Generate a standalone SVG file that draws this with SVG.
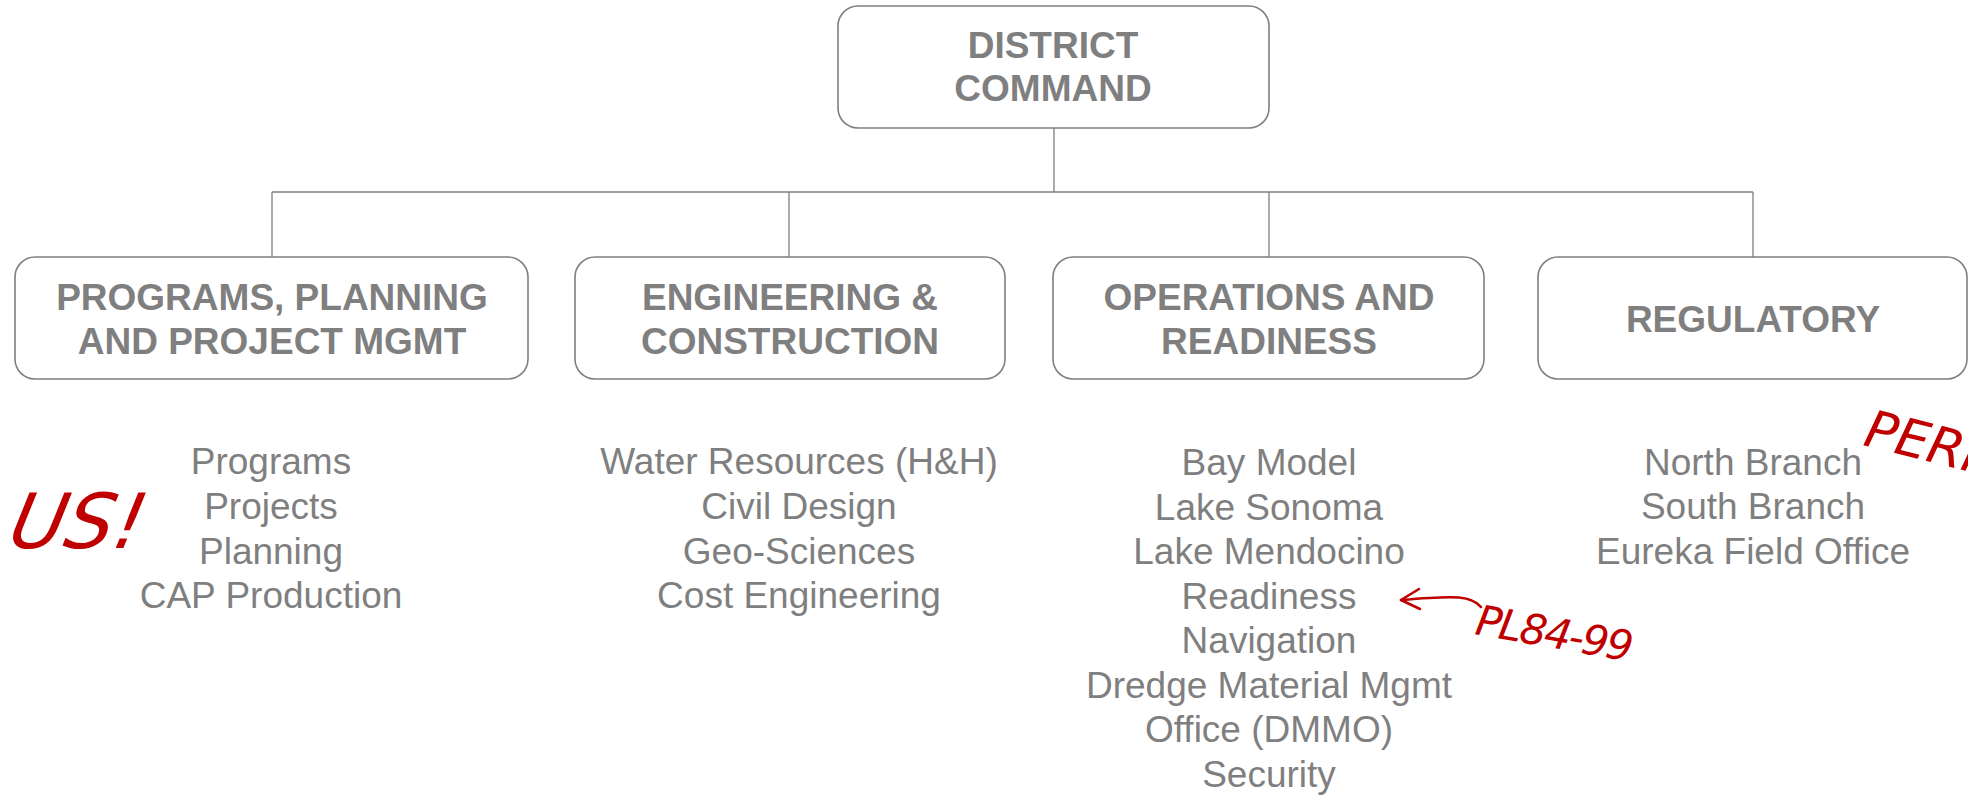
<svg xmlns="http://www.w3.org/2000/svg" width="1968" height="795" viewBox="0 0 1968 795">
<style>
.box{fill:#ffffff;stroke:#7f7f7f;stroke-width:1.6}
.hd{font-family:"Liberation Sans",Arial,sans-serif;font-weight:bold;font-size:37px;fill:#7f7f7f;text-anchor:middle}
.li{font-family:"Liberation Sans",Arial,sans-serif;font-size:37px;fill:#7f7f7f;text-anchor:middle}
.con{fill:none;stroke:#7f7f7f;stroke-width:1.3}
.note{font-family:"DejaVu Sans","Liberation Sans",sans-serif;font-style:italic;fill:#c00000}
.ink{fill:none;stroke:#c00000;stroke-width:2.6;stroke-linecap:round;stroke-linejoin:round}
</style>
<rect width="1968" height="795" fill="#ffffff"/>
<g id="connectors">
<path class="con" d="M1054,128 V192 M272,192 H1753 M272,192 V257 M789,192 V257 M1269,192 V257 M1753,192 V257"/>
</g>
<g id="district-command">
<rect class="box" x="838" y="6" width="431" height="122" rx="20"/>
<text class="hd" x="1053" y="58">DISTRICT</text>
<text class="hd" x="1053" y="101">COMMAND</text>
</g>
<g id="ppm">
<rect class="box" x="15" y="257" width="513" height="122" rx="20"/>
<text class="hd" x="272" y="310">PROGRAMS, PLANNING</text>
<text class="hd" x="272" y="354">AND PROJECT MGMT</text>
<g class="li">
<text x="271" y="474">Programs</text>
<text x="271" y="519">Projects</text>
<text x="271" y="564">Planning</text>
<text x="271" y="608">CAP Production</text>
</g>
</g>
<g id="engineering">
<rect class="box" x="575" y="257" width="430" height="122" rx="20"/>
<text class="hd" x="790" y="310">ENGINEERING &amp;</text>
<text class="hd" x="790" y="354">CONSTRUCTION</text>
<g class="li">
<text x="799" y="474">Water Resources (H&amp;H)</text>
<text x="799" y="519">Civil Design</text>
<text x="799" y="564">Geo-Sciences</text>
<text x="799" y="608">Cost Engineering</text>
</g>
</g>
<g id="operations">
<rect class="box" x="1053" y="257" width="431" height="122" rx="20"/>
<text class="hd" x="1269" y="310">OPERATIONS AND</text>
<text class="hd" x="1269" y="354">READINESS</text>
<g class="li">
<text x="1269" y="475">Bay Model</text>
<text x="1269" y="520">Lake Sonoma</text>
<text x="1269" y="564">Lake Mendocino</text>
<text x="1269" y="609">Readiness</text>
<text x="1269" y="653">Navigation</text>
<text x="1269" y="698">Dredge Material Mgmt</text>
<text x="1269" y="742">Office (DMMO)</text>
<text x="1269" y="787">Security</text>
</g>
</g>
<g id="regulatory">
<rect class="box" x="1538" y="257" width="429" height="122" rx="20"/>
<text class="hd" x="1753" y="332">REGULATORY</text>
<g class="li">
<text x="1753" y="475">North Branch</text>
<text x="1753" y="519">South Branch</text>
<text x="1753" y="564">Eureka Field Office</text>
</g>
</g>
<g id="annotations">
<text class="note" font-size="76" transform="translate(6,548) skewX(-12)">US!</text>
<text class="note" font-size="52" transform="translate(1862,445) rotate(14)">PERM</text>
<text class="note" font-size="42" letter-spacing="-2" transform="translate(1474,634) rotate(10)">PL84-99</text>
<path class="ink" d="M1481,607 C1472,596 1458,595 1401,600"/>
<path class="ink" d="M1419,589 L1401,600 L1420,609"/>
</g>
</svg>
